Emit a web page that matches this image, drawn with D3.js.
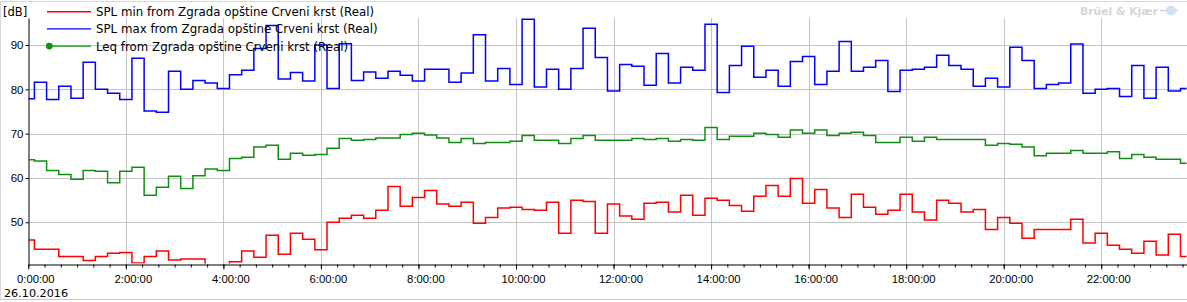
<!DOCTYPE html>
<html>
<head>
<meta charset="utf-8">
<script src="https://cdn.jsdelivr.net/npm/d3@7.9.0/dist/d3.min.js"></script>
<style>
  body { margin: 0; background: #fff; }
  svg { display: block; font-family: "DejaVu Sans", Verdana, sans-serif; }
</style>
</head>
<body>
<svg id="chart" width="1187" height="302"></svg>
<script>
// 15 minute values, 0:00 .. 23:45
const splMin = [
  46.0, 43.9, 43.9, 42.3, 42.3, 41.4, 42.3, 43.0, 43.2, 40.8, 42.3, 43.5, 41.5, 41.7, 41.7, 40.0,
  39.8, 41.1, 43.5, 42.1, 47.1, 42.8, 47.5, 46.2, 43.8, 50.0, 50.9, 51.6, 50.9, 52.7, 58.1, 53.6,
  55.6, 57.2, 54.1, 53.6, 54.5, 49.8, 51.1, 53.2, 53.4, 52.9, 52.7, 54.5, 47.5, 55.0, 54.7, 47.5,
  54.1, 51.4, 50.7, 54.3, 54.5, 52.3, 56.1, 51.6, 55.4, 55.0, 53.8, 52.5, 55.9, 58.3, 55.9, 59.9,
  54.3, 57.4, 53.2, 51.1, 56.3, 53.4, 51.8, 52.7, 56.3, 52.3, 50.5, 55.0, 54.3, 52.3, 52.9, 48.4,
  51.1, 49.8, 46.4, 48.4, 48.4, 48.4, 50.7, 45.3, 47.5, 44.8, 43.9, 43.0, 45.7, 42.6, 47.3, 42.3
];
const splMax = [
  77.9, 81.6, 77.7, 80.7, 78.0, 86.1, 80.0, 79.1, 77.7, 87.0, 75.1, 74.8, 84.1, 80.0, 82.0, 81.4,
  80.2, 83.3, 84.3, 89.2, 94.4, 82.3, 83.8, 81.9, 90.0, 80.2, 90.3, 82.0, 83.9, 82.5, 84.1, 83.2,
  81.9, 84.5, 84.5, 81.6, 83.7, 92.3, 81.9, 84.7, 81.1, 95.8, 80.5, 84.5, 80.0, 84.7, 93.8, 87.2,
  79.6, 85.6, 85.2, 80.9, 88.1, 81.4, 85.0, 84.3, 94.7, 79.3, 85.4, 89.7, 82.7, 84.3, 80.7, 86.3,
  87.4, 81.1, 84.1, 90.8, 84.1, 85.0, 86.5, 79.5, 84.3, 84.5, 85.0, 87.7, 85.4, 84.5, 80.7, 82.5,
  80.5, 89.5, 86.5, 80.2, 81.1, 81.4, 90.2, 79.1, 80.0, 80.2, 78.4, 85.4, 78.0, 85.0, 79.6, 80.2
];
const leq = [
  64.1, 63.8, 61.7, 60.8, 59.7, 61.7, 61.5, 58.9, 61.5, 62.4, 56.1, 57.9, 60.4, 57.6, 60.5, 62.0,
  61.7, 64.4, 64.7, 67.0, 67.4, 64.2, 65.6, 65.1, 65.3, 66.7, 68.9, 68.5, 68.7, 69.0, 69.0, 69.8,
  70.1, 69.7, 69.0, 68.0, 68.9, 67.8, 68.0, 68.0, 68.3, 69.6, 68.5, 68.5, 67.8, 68.9, 69.6, 68.5,
  68.5, 68.5, 68.9, 68.7, 68.9, 68.3, 68.7, 68.5, 71.4, 68.7, 69.4, 69.4, 70.1, 69.8, 69.2, 70.8,
  70.1, 70.8, 69.6, 70.1, 70.3, 69.6, 68.0, 68.0, 69.2, 68.3, 69.2, 68.7, 68.7, 68.7, 68.7, 67.4,
  67.8, 67.6, 67.0, 65.0, 65.6, 65.6, 66.2, 65.6, 65.6, 65.9, 64.4, 65.3, 64.7, 64.2, 64.2, 63.3
];
const yTicks = [50, 60, 70, 80, 90];
const seriesNames = [
  "SPL min from Zgrada opštine Crveni krst (Real)",
  "SPL max from Zgrada opštine Crveni krst (Real)",
  "Leq from Zgrada opštine Crveni krst (Real)"
];
const seriesColors = ["#ff0000", "#0000ff", "#109010"];
const dateLabel = "26.10.2016";

const W = 1187, H = 302;
const plotLeft = 28.3, plotTop = 18, plotBottom = 264;

const day0 = new Date(2016, 9, 26, 0, 0, 0);
const day1 = new Date(2016, 9, 27, 0, 0, 0);
const times = d3.timeMinute.every(15).range(day0, day1);

const x = d3.scaleTime().domain([day0, day1]).range([plotLeft, plotLeft + 24 * 48.77]);
const y = d3.scaleLinear().domain([40.59, 96.09]).range([plotBottom, plotTop]);

const svg = d3.select("#chart");

// frame
svg.append("path")
  .attr("d", `M0.5,${H - 2.5} V1.5 H${W}`)
  .attr("fill", "none").attr("stroke", "#d8d8d8");
svg.append("line")
  .attr("x1", 0).attr("x2", W).attr("y1", H - 2.5).attr("y2", H - 2.5)
  .attr("stroke", "#c8c8c8");

// grid
const majorTimes = d3.timeHour.every(2).range(day0, day1);
svg.append("g").selectAll("line").data(yTicks).join("line")
  .attr("x1", plotLeft).attr("x2", W)
  .attr("y1", d => Math.round(y(d)) + 0.5).attr("y2", d => Math.round(y(d)) + 0.5)
  .attr("stroke", "#c4c4c4");
svg.append("g").selectAll("line").data(majorTimes.slice(1)).join("line")
  .attr("x1", d => Math.round(x(d)) + 0.5).attr("x2", d => Math.round(x(d)) + 0.5)
  .attr("y1", plotTop).attr("y2", plotBottom)
  .attr("stroke", "#c4c4c4");

// axes
const yAxis = svg.append("g")
  .attr("transform", `translate(${Math.round(plotLeft) + 0.5},0)`)
  .call(d3.axisLeft(y).tickValues(yTicks).tickSize(3).tickSizeOuter(0).tickPadding(2));
yAxis.select(".domain").attr("stroke", "#000");
yAxis.selectAll("text").attr("font-size", 11.5).attr("font-family", null).attr("fill", "#000");

const xMinor = svg.append("g")
  .attr("transform", `translate(0,${plotBottom + 0.5})`)
  .call(d3.axisBottom(x).tickValues(d3.timeMinute.every(20).range(day0, day1))
    .tickSize(3).tickSizeOuter(0).tickFormat(""));
xMinor.select(".domain").attr("stroke", "#000");

const xAxis = svg.append("g")
  .attr("transform", `translate(0,${plotBottom + 0.5})`)
  .call(d3.axisBottom(x).tickValues(majorTimes).tickSize(5).tickSizeOuter(0)
    .tickPadding(5).tickFormat(d3.timeFormat("%-H:%M:%S")));
xAxis.select(".domain").remove();
xAxis.selectAll("text").attr("x", 7).attr("font-size", 11.3).attr("font-family", null).attr("fill", "#000");

svg.append("text").attr("x", 3).attr("y", 16)
  .attr("font-size", 11.5).attr("fill", "#000").text("[dB]");
svg.append("text").attr("x", 4).attr("y", 297)
  .attr("font-size", 11.2).attr("fill", "#000").text(dateLabel);

// series
svg.append("clipPath").attr("id", "plot-clip")
  .append("rect").attr("x", plotLeft).attr("y", 0)
  .attr("width", W - plotLeft).attr("height", plotBottom - 0.5);

const line = d3.line()
  .x(d => x(d[0]))
  .y(d => y(d[1]))
  .curve(d3.curveStep);

const plot = svg.append("g").attr("clip-path", "url(#plot-clip)");
[splMin, splMax, leq].forEach((vals, i) => {
  plot.append("path")
    .datum(times.map((t, j) => [t, vals[j]]))
    .attr("d", line)
    .attr("fill", "none")
    .attr("stroke", seriesColors[i])
    .attr("stroke-width", 1.5);
});

// legend
const legend = svg.append("g");
seriesNames.forEach((name, i) => {
  const ly = 11.7 + i * 17.2;
  legend.append("line")
    .attr("x1", 47).attr("x2", 91).attr("y1", ly).attr("y2", ly)
    .attr("stroke", seriesColors[i]).attr("stroke-width", 1.4);
  if (i === 2) {
    legend.append("circle").attr("cx", 49.3).attr("cy", ly).attr("r", 3.4)
      .attr("fill", seriesColors[i]);
  }
  legend.append("text").attr("x", 96).attr("y", ly + 4.4)
    .attr("font-size", 11.8).attr("fill", "#000").text(name);
});

// watermark
svg.append("text").attr("x", 1080).attr("y", 14.5)
  .attr("font-size", 10.8).attr("font-weight", "bold").attr("fill", "#d6d6d6")
  .text("Brüel & Kjær");
svg.append("line").attr("x1", 1160).attr("x2", 1178).attr("y1", 10.5).attr("y2", 10.5)
  .attr("stroke", "#c6d6f2").attr("stroke-width", 1.5);
svg.append("circle").attr("cx", 1171).attr("cy", 10.5).attr("r", 5)
  .attr("fill", "#d4e0f5");
</script>
</body>
</html>
